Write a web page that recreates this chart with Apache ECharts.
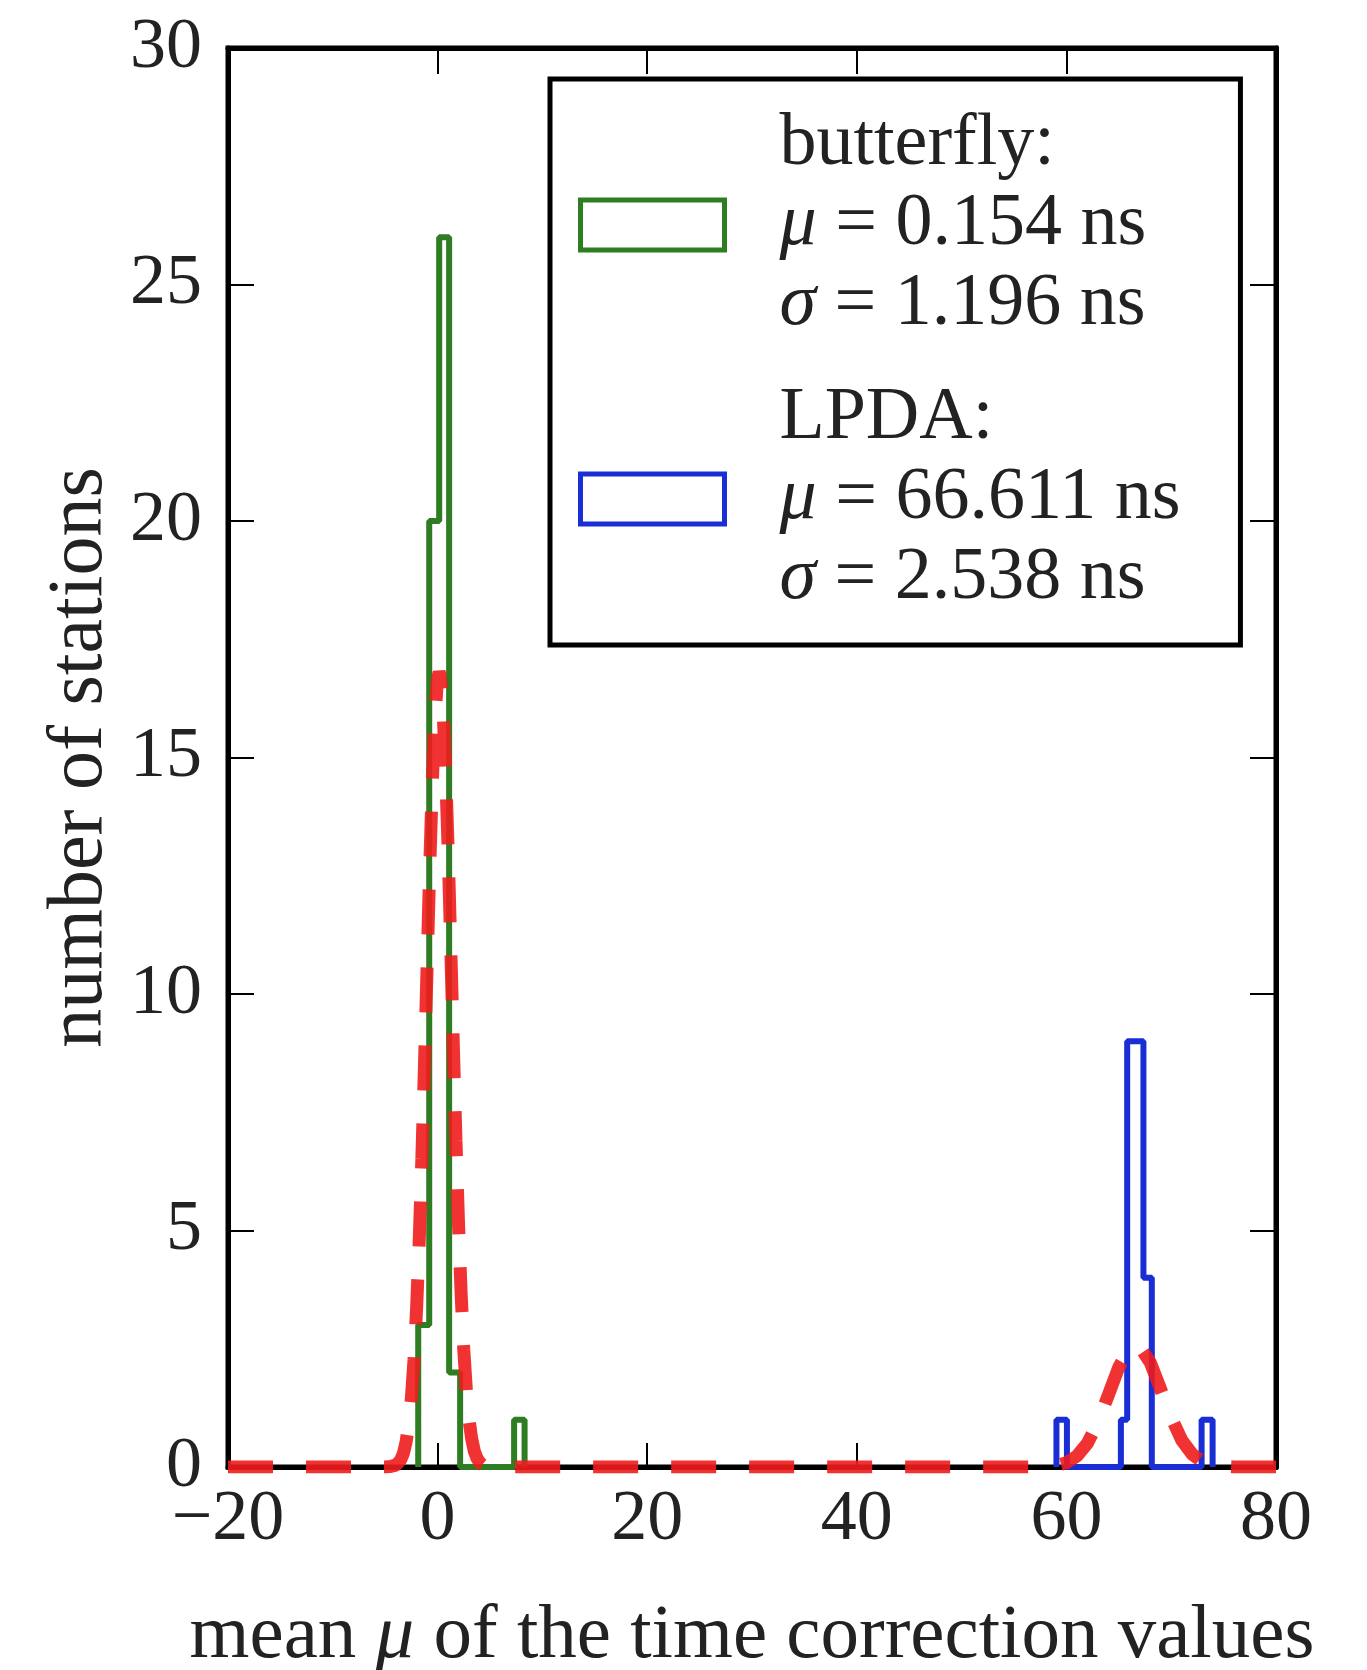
<!DOCTYPE html>
<html>
<head>
<meta charset="utf-8">
<script src="https://cdn.jsdelivr.net/npm/echarts@6/dist/echarts.min.js"></script>
<style>
html,body{margin:0;padding:0;background:#fff;}
#chart{width:1367px;height:1670px;}
</style>
</head>
<body>
<div id="chart"></div>
<script>
// ---- data ----
const xTicks = [-20, 0, 20, 40, 60, 80];
const yTicks = [0, 5, 10, 15, 20, 25, 30];

// butterfly histogram: bin left edges, right edges, counts
const butterflyLeft  = [-1.85, -0.8, 0.15, 1.1, 7.3];
const butterflyRight = [-0.8, 0.15, 1.1, 2.15, 8.3];
const butterflyCount = [3, 20, 26, 2, 1];

// LPDA histogram
const lpdaLeft  = [59.05, 65.2, 65.8, 67.35, 72.9];
const lpdaRight = [60.05, 65.8, 67.35, 68.15, 73.95];
const lpdaCount = [1, 1, 9, 4, 1];

// red dashed fit curve
const fitX = [-20, -5, -4.5, -4, -3.75, -3.5, -3.25, -3, -2.75, -2.5, -2.25, -2, -1.75, -1.5, -1.25, -1, -0.75, -0.5, -0.25, 0, 0.15, 0.25, 0.5, 0.75, 1, 1.25, 1.5, 1.75, 2, 2.25, 2.5, 2.75, 3, 3.25, 3.5, 3.75, 4, 4.25, 4.5, 5,
              57, 58, 59, 60, 61, 62, 63, 64, 65, 66, 66.6, 67, 68, 69, 70, 71, 72, 73, 74, 75, 76, 80];
const fitY = [0, 0, 0.01, 0.04, 0.09, 0.16, 0.30, 0.54, 0.91, 1.46, 2.27, 3.37, 4.80, 6.53, 8.50, 10.6, 12.68, 14.5, 15.89, 16.67, 16.8, 16.74, 16.1, 14.83, 13.1, 11.04, 8.92, 6.91, 5.12, 3.64, 2.47, 1.61, 1.0, 0.60, 0.34, 0.19, 0.1, 0.05, 0.02, 0,
              0, 0.01, 0.03, 0.09, 0.23, 0.50, 0.94, 1.52, 2.11, 2.50, 2.57, 2.54, 2.21, 1.64, 1.05, 0.57, 0.27, 0.11, 0.04, 0.01, 0, 0];

const seriesNames = ['butterfly', 'LPDA'];
const legendMu = ['0.154', '66.611'];
const legendSigma = ['1.196', '2.538'];

// ---- build outlines ----
function outline(L, R, C) {
  const pts = [];
  for (let i = 0; i < L.length; i++) {
    if (i === 0 || Math.abs(L[i] - R[i - 1]) > 1e-9) pts.push([L[i], 0]);
    pts.push([L[i], C[i]]);
    if (i === L.length - 1 || Math.abs(L[i + 1] - R[i]) > 1e-9) {
      pts.push([R[i], C[i]]);
      pts.push([R[i], 0]);
    }
  }
  return pts;
}
function toPoly(pts) {
  const out = [];
  for (let i = 0; i < pts.length; i++) {
    if (i > 0 && pts[i][1] !== pts[i-1][1] && pts[i][0] !== pts[i-1][0]) {
      out.push([pts[i][0], pts[i-1][1]]);
    }
    out.push(pts[i]);
  }
  return out;
}
const butterflyPts = toPoly(outline(butterflyLeft, butterflyRight, butterflyCount));
const lpdaPts = toPoly(outline(lpdaLeft, lpdaRight, lpdaCount));
const fitPts = fitX.map((x, i) => [x, fitY[i]]);

const GREEN = '#2e7d22';
const BLUE = '#1a2ed6';
const RED = '#f01c1c';
const FONT = 'Liberation Serif';

const chart = echarts.init(document.getElementById('chart'), null, {renderer: 'canvas'});

chart.setOption({
  animation: false,
  backgroundColor: '#fff',
  grid: {left: 228, right: 91, top: 48, bottom: 203, show: true, borderColor: '#000', borderWidth: 5,
         backgroundColor: '#fff', containLabel: false, outerBoundsMode: 'none'},
  xAxis: [{
    type: 'value', min: -20, max: 80, interval: 20, position: 'bottom',
    axisLine: {show: true, onZero: false, lineStyle: {color: '#000', width: 5}},
    axisTick: {show: true, inside: true, length: 24, lineStyle: {color: '#000', width: 2}},
    splitLine: {show: false},
    axisLabel: {fontFamily: FONT, fontSize: 72, color: '#222', margin: 17,
      formatter: v => String(v).replace('-', '\u2212')},
    name: 'mean {i|μ} of the time correction values',
    nameLocation: 'middle', nameGap: 131,
    nameTextStyle: {fontFamily: FONT, fontSize: 77, color: '#222',
      rich: {i: {fontFamily: FONT, fontSize: 77, fontStyle: 'italic', color: '#222'}}}
  }, {
    type: 'value', min: -20, max: 80, interval: 20, position: 'top',
    axisLine: {show: true, onZero: false, lineStyle: {color: '#000', width: 5}},
    axisTick: {show: true, inside: true, length: 26, lineStyle: {color: '#000', width: 2}},
    axisLabel: {show: false}, splitLine: {show: false}
  }],
  yAxis: [{
    type: 'value', min: 0, max: 30, interval: 5, position: 'left',
    axisLine: {show: true, onZero: false, lineStyle: {color: '#000', width: 5}},
    axisTick: {show: true, inside: true, length: 26, lineStyle: {color: '#000', width: 2}},
    splitLine: {show: false},
    axisLabel: {fontFamily: FONT, fontSize: 72, color: '#222', margin: 26},
    name: 'number of stations', nameLocation: 'middle', nameGap: 108,
    nameTextStyle: {fontFamily: FONT, fontSize: 78, color: '#222'}
  }, {
    type: 'value', min: 0, max: 30, interval: 5, position: 'right',
    axisLine: {show: true, onZero: false, lineStyle: {color: '#000', width: 5}},
    axisTick: {show: true, inside: true, length: 26, lineStyle: {color: '#000', width: 2}},
    axisLabel: {show: false}, splitLine: {show: false}
  }],
  legend: {
    orient: 'vertical', left: 550, top: 79,
    padding: [26, 60, 26, 28],
    itemGap: 34, itemWidth: 144, itemHeight: 50,
    backgroundColor: '#fff', borderColor: '#000', borderWidth: 5, borderRadius: 0,
    selectedMode: false,
    data: [
      {name: seriesNames[0], icon: 'rect', itemStyle: {color: '#fff', borderColor: GREEN, borderWidth: 5}},
      {name: seriesNames[1], icon: 'rect', itemStyle: {color: '#fff', borderColor: BLUE, borderWidth: 5}}
    ],
    formatter: name => {
      const i = seriesNames.indexOf(name);
      return '{t|' + name + ':}\n{i|μ}{t| = ' + legendMu[i] + ' ns}\n{i|σ}{t| = ' + legendSigma[i] + ' ns}';
    },
    textStyle: {
      fontFamily: FONT, fontSize: 74, color: '#222', lineHeight: 80, padding: [0, 0, 0, 50],
      rich: {
        t: {fontFamily: FONT, fontSize: 74, color: '#222', lineHeight: 80},
        i: {fontFamily: FONT, fontSize: 74, color: '#222', lineHeight: 80, fontStyle: 'italic'}
      }
    }
  },
  series: [{
    name: seriesNames[0], type: 'line', data: butterflyPts, showSymbol: false, symbol: 'none',
    lineStyle: {color: GREEN, width: 6}, itemStyle: {color: GREEN}, z: 3, clip: true
  }, {
    name: seriesNames[1], type: 'line', data: lpdaPts, showSymbol: false, symbol: 'none',
    lineStyle: {color: BLUE, width: 6}, itemStyle: {color: BLUE}, z: 3, clip: true
  }, {
    name: 'fit', type: 'line', data: fitPts, showSymbol: false, symbol: 'none',
    lineStyle: {color: RED, width: 13, type: [45, 33], cap: 'butt', opacity: 0.9}, z: 4, clip: true
  }]
});
</script>
</body>
</html>
